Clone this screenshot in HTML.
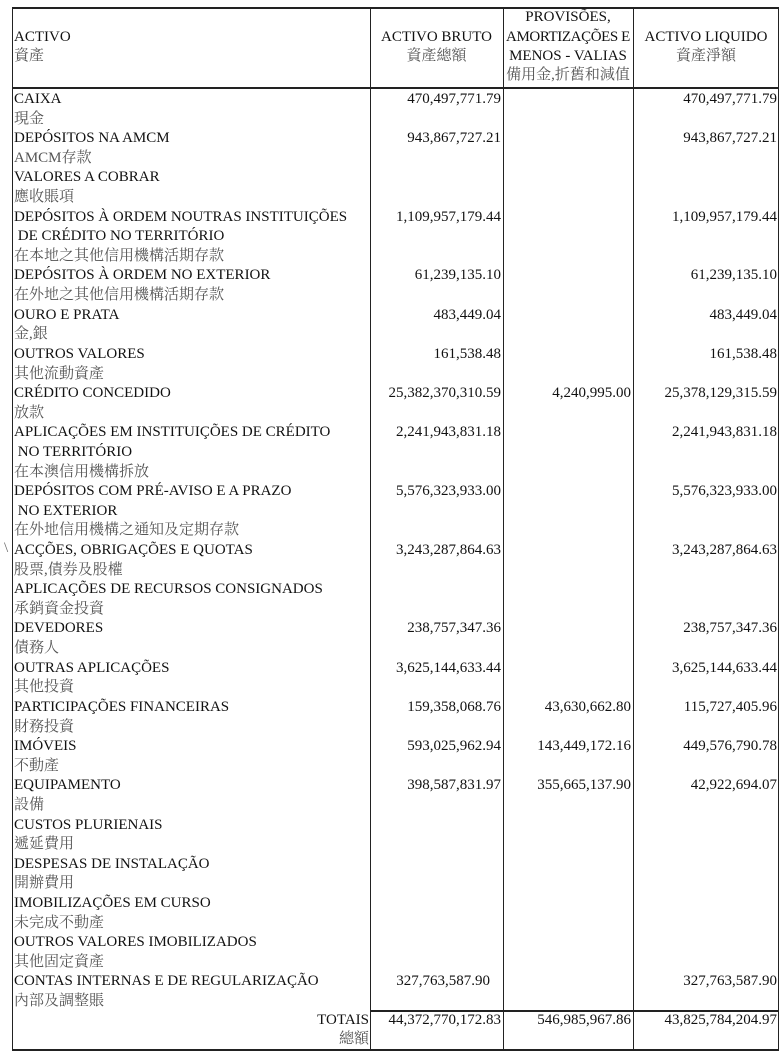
<!DOCTYPE html>
<html><head><meta charset="utf-8"><style>
body{margin:0;width:782px;height:1058px;background:#fff;position:relative;overflow:hidden;font-family:"Liberation Serif","Noto Serif CJK SC",serif;color:#111;font-size:15px}
.v{position:absolute;background:#222;width:1px}
.h{position:absolute;background:#222;height:1.5px}
.t{position:absolute;white-space:nowrap;line-height:19px}
.zh{color:#555;font-family:"Liberation Serif","Noto Serif CJK TC",serif}
.r{text-align:right}
.c{text-align:center}
#rows{position:absolute;left:12px;top:90px;width:767px}
.l{height:19.62px;line-height:19.62px;position:relative;white-space:nowrap}
.l span{position:absolute;top:0}
.a{left:2px}
.b{right:278px}
.p{right:148px}
.n{right:2px}
</style></head><body>
<div class="h" style="left:12px;top:7px;width:767px"></div>
<div class="h" style="left:12px;top:87px;width:767px"></div>
<div class="h" style="left:370px;top:1010px;width:409px"></div>
<div class="h" style="left:12px;top:1049px;width:767px"></div>
<div class="v" style="left:12px;top:7px;height:1043px"></div>
<div class="v" style="left:370px;top:7px;height:1043px"></div>
<div class="v" style="left:503px;top:7px;height:1043px"></div>
<div class="v" style="left:633px;top:7px;height:1043px"></div>
<div class="v" style="left:778px;top:7px;height:1043px"></div>

<div class="t" style="left:14px;top:28px">ACTIVO</div>
<div class="t zh" style="left:14px;top:47px">資產</div>
<div class="t c" style="left:370px;width:133px;top:28px">ACTIVO BRUTO</div>
<div class="t c zh" style="left:370px;width:133px;top:47px">資產總額</div>
<div class="t c" style="left:503px;width:130px;top:8px">PROVISÕES,</div>
<div class="t c" style="left:500px;width:136px;top:28px;letter-spacing:-0.4px">AMORTIZAÇÕES E</div>
<div class="t c" style="left:503px;width:130px;top:47px">MENOS - VALIAS</div>
<div class="t c zh" style="left:503px;width:130px;top:66px">備用金,折舊和減值</div>
<div class="t c" style="left:633px;width:146px;top:28px">ACTIVO LIQUIDO</div>
<div class="t c zh" style="left:633px;width:146px;top:47px">資產淨額</div>
<div class="t" style="left:4px;top:539px;color:#666">\</div>

<div id="rows">
<div class="l"><span class="a">CAIXA</span><span class="b">470,497,771.79</span><span class="n">470,497,771.79</span></div>
<div class="l zh"><span class="a">現金</span></div>
<div class="l"><span class="a">DEPÓSITOS NA AMCM</span><span class="b">943,867,727.21</span><span class="n">943,867,727.21</span></div>
<div class="l zh"><span class="a">AMCM存款</span></div>
<div class="l"><span class="a">VALORES A COBRAR</span></div>
<div class="l zh"><span class="a">應收賬項</span></div>
<div class="l"><span class="a">DEPÓSITOS À ORDEM NOUTRAS INSTITUIÇÕES</span><span class="b">1,109,957,179.44</span><span class="n">1,109,957,179.44</span></div>
<div class="l"><span class="a">&nbsp;DE CRÉDITO NO TERRITÓRIO</span></div>
<div class="l zh"><span class="a">在本地之其他信用機構活期存款</span></div>
<div class="l"><span class="a">DEPÓSITOS À ORDEM NO EXTERIOR</span><span class="b">61,239,135.10</span><span class="n">61,239,135.10</span></div>
<div class="l zh"><span class="a">在外地之其他信用機構活期存款</span></div>
<div class="l"><span class="a">OURO E PRATA</span><span class="b">483,449.04</span><span class="n">483,449.04</span></div>
<div class="l zh"><span class="a">金,銀</span></div>
<div class="l"><span class="a">OUTROS VALORES</span><span class="b">161,538.48</span><span class="n">161,538.48</span></div>
<div class="l zh"><span class="a">其他流動資產</span></div>
<div class="l"><span class="a">CRÉDITO CONCEDIDO</span><span class="b">25,382,370,310.59</span><span class="p">4,240,995.00</span><span class="n">25,378,129,315.59</span></div>
<div class="l zh"><span class="a">放款</span></div>
<div class="l"><span class="a">APLICAÇÕES EM INSTITUIÇÕES DE CRÉDITO</span><span class="b">2,241,943,831.18</span><span class="n">2,241,943,831.18</span></div>
<div class="l"><span class="a">&nbsp;NO TERRITÓRIO</span></div>
<div class="l zh"><span class="a">在本澳信用機構拆放</span></div>
<div class="l"><span class="a">DEPÓSITOS COM PRÉ-AVISO E A PRAZO</span><span class="b">5,576,323,933.00</span><span class="n">5,576,323,933.00</span></div>
<div class="l"><span class="a">&nbsp;NO EXTERIOR</span></div>
<div class="l zh"><span class="a">在外地信用機構之通知及定期存款</span></div>
<div class="l"><span class="a">ACÇÕES, OBRIGAÇÕES E QUOTAS</span><span class="b">3,243,287,864.63</span><span class="n">3,243,287,864.63</span></div>
<div class="l zh"><span class="a">股票,債券及股權</span></div>
<div class="l"><span class="a">APLICAÇÕES DE RECURSOS CONSIGNADOS</span></div>
<div class="l zh"><span class="a">承銷資金投資</span></div>
<div class="l"><span class="a">DEVEDORES</span><span class="b">238,757,347.36</span><span class="n">238,757,347.36</span></div>
<div class="l zh"><span class="a">債務人</span></div>
<div class="l"><span class="a">OUTRAS APLICAÇÕES</span><span class="b">3,625,144,633.44</span><span class="n">3,625,144,633.44</span></div>
<div class="l zh"><span class="a">其他投資</span></div>
<div class="l"><span class="a">PARTICIPAÇÕES FINANCEIRAS</span><span class="b">159,358,068.76</span><span class="p">43,630,662.80</span><span class="n">115,727,405.96</span></div>
<div class="l zh"><span class="a">財務投資</span></div>
<div class="l"><span class="a">IMÓVEIS</span><span class="b">593,025,962.94</span><span class="p">143,449,172.16</span><span class="n">449,576,790.78</span></div>
<div class="l zh"><span class="a">不動產</span></div>
<div class="l"><span class="a">EQUIPAMENTO</span><span class="b">398,587,831.97</span><span class="p">355,665,137.90</span><span class="n">42,922,694.07</span></div>
<div class="l zh"><span class="a">設備</span></div>
<div class="l"><span class="a">CUSTOS PLURIENAIS</span></div>
<div class="l zh"><span class="a">遞延費用</span></div>
<div class="l"><span class="a">DESPESAS DE INSTALAÇÃO</span></div>
<div class="l zh"><span class="a">開辦費用</span></div>
<div class="l"><span class="a">IMOBILIZAÇÕES EM CURSO</span></div>
<div class="l zh"><span class="a">未完成不動產</span></div>
<div class="l"><span class="a">OUTROS VALORES IMOBILIZADOS</span></div>
<div class="l zh"><span class="a">其他固定資產</span></div>
<div class="l"><span class="a">CONTAS INTERNAS E DE REGULARIZAÇÃO</span><span class="b" style="right:289px">327,763,587.90</span><span class="n">327,763,587.90</span></div>
<div class="l zh"><span class="a">內部及調整賬</span></div>
</div>

<div class="t r" style="left:200px;width:169px;top:1011px">TOTAIS</div>
<div class="t r zh" style="left:200px;width:169px;top:1030px">總額</div>
<div class="t r" style="left:370px;width:131px;top:1011px">44,372,770,172.83</div>
<div class="t r" style="left:503px;width:128px;top:1011px">546,985,967.86</div>
<div class="t r" style="left:633px;width:144px;top:1011px">43,825,784,204.97</div>
</body></html>
